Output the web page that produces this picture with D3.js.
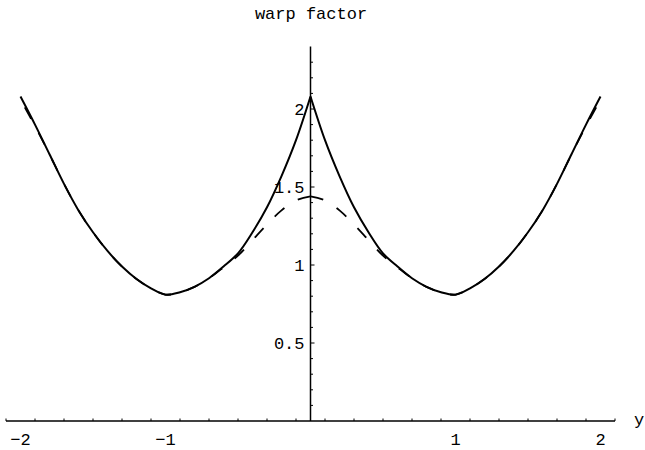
<!DOCTYPE html>
<html>
<head>
<meta charset="utf-8">
<script src="https://cdn.jsdelivr.net/npm/d3@7/dist/d3.min.js"></script>
<style>
  html, body { margin: 0; padding: 0; background: #fff; }
  svg { display: block; }
  text { font-family: "Liberation Mono", "DejaVu Sans Mono", monospace; fill: #000; }
</style>
</head>
<body>
<svg id="chart" width="645" height="450"></svg>
<script>
// Sample positions along y
const yPos = [-2.0, -1.9, -1.8, -1.7, -1.6, -1.5, -1.4, -1.3, -1.2, -1.1, -1.0,
              -0.9, -0.8, -0.7, -0.6, -0.5, -0.4, -0.3, -0.2, -0.1, 0.0,
               0.1, 0.2, 0.3, 0.4, 0.5, 0.6, 0.7, 0.8, 0.9, 1.0,
               1.1, 1.2, 1.3, 1.4, 1.5, 1.6, 1.7, 1.8, 1.9, 2.0];

// Exact warp factor (solid, cusps at 0 and ±2)
const warpExact = [2.08, 1.90, 1.71, 1.52, 1.35, 1.21, 1.09, 0.99, 0.91, 0.85, 0.81,
                   0.825, 0.86, 0.915, 0.99, 1.075, 1.21, 1.37, 1.57, 1.80, 2.08,
                   1.80, 1.57, 1.37, 1.21, 1.075, 0.99, 0.915, 0.86, 0.825, 0.81,
                   0.85, 0.91, 0.99, 1.09, 1.21, 1.35, 1.52, 1.71, 1.90, 2.08];

// Smoothed warp factor (dashed), one half running out from y = 0 each way
const smoothPos = [0.0, 0.1, 0.2, 0.3, 0.4, 0.5, 0.6, 0.7, 0.8, 0.9, 1.0,
                   1.1, 1.2, 1.3, 1.4, 1.5, 1.6, 1.7, 1.8, 1.9, 2.0];
const smoothRight = [1.44, 1.415, 1.35, 1.26, 1.16, 1.06, 0.985, 0.915, 0.86, 0.825, 0.81,
                     0.85, 0.91, 0.99, 1.09, 1.21, 1.35, 1.52, 1.71, 1.89, 2.06];
const smoothLeft  = [1.44, 1.415, 1.35, 1.26, 1.16, 1.06, 0.985, 0.915, 0.86, 0.825, 0.81,
                     0.85, 0.91, 0.99, 1.09, 1.21, 1.35, 1.52, 1.71, 1.89, 2.06];

const xMajor = [-2, -1, 1, 2];
const yMajor = [0.5, 1, 1.5, 2];

const svg = d3.select("#chart");

const x = d3.scaleLinear().domain([-2.1, 2.1]).range([6, 615]);
const y = d3.scaleLinear().domain([0, 2.4]).range([421, 46.6]);

// Minor tick positions
const xMinor = d3.range(-21, 22, 2).map(d => d / 10).filter(d => d >= -2.1 && d <= 2.1);
const yMinor = d3.range(1, 24).map(d => d / 10);
const isMajor = (list, d) => list.some(m => Math.abs(m - d) < 1e-9);

// x axis line and ticks (ticks point upward)
const gx = svg.append("g");
gx.append("line")
  .attr("x1", x(-2.1)).attr("x2", x(2.1))
  .attr("y1", y(0)).attr("y2", y(0))
  .attr("stroke", "#000").attr("stroke-width", 1.5);
gx.selectAll("line.tick").data(xMinor.filter(d => Math.abs(d) > 1e-9)).enter()
  .append("line").attr("class", "tick")
  .attr("x1", d => x(d)).attr("x2", d => x(d))
  .attr("y1", y(0)).attr("y2", d => y(0) - (isMajor(xMajor, d) ? 4 : 2.5))
  .attr("stroke", "#000").attr("stroke-width", 1);
gx.selectAll("text").data(xMajor).enter().append("text")
  .attr("x", d => x(d)).attr("y", y(0) + 24)
  .attr("text-anchor", "middle")
  .attr("font-size", 17)
  .text(d => d < 0 ? "\u2212" + Math.abs(d) : String(d));
svg.append("text").attr("x", 634).attr("y", 425)
  .attr("font-size", 17).text("y");

// y axis line and ticks (ticks point right)
const gy = svg.append("g");
gy.append("line")
  .attr("x1", x(0)).attr("x2", x(0))
  .attr("y1", y(0)).attr("y2", y(2.4))
  .attr("stroke", "#000").attr("stroke-width", 1.5);
gy.selectAll("line.tick").data(yMinor).enter()
  .append("line").attr("class", "tick")
  .attr("x1", x(0)).attr("x2", d => x(0) + (isMajor(yMajor, d) ? 4 : 2.5))
  .attr("y1", d => y(d)).attr("y2", d => y(d))
  .attr("stroke", "#000").attr("stroke-width", 1);
gy.selectAll("text").data(yMajor).enter().append("text")
  .attr("x", x(0) - 6).attr("y", d => y(d))
  .attr("dy", "0.35em")
  .attr("text-anchor", "end")
  .attr("font-size", 17)
  .text(d => String(d));

// Title
svg.append("text").attr("x", 311).attr("y", 19)
  .attr("text-anchor", "middle").attr("font-size", 17)
  .text("warp factor");

// Curves
const line = d3.line()
  .x(d => x(d[0])).y(d => y(d[1]))
  .curve(d3.curveCatmullRom.alpha(0.5));

// Dashed smooth curve, drawn outward from the centre so a dash straddles y = 0
[[1, smoothRight], [-1, smoothLeft]].forEach(([side, vals]) => {
  svg.append("path")
    .attr("d", line(smoothPos.map((p, i) => [side * p, vals[i]])))
    .attr("fill", "none").attr("stroke", "#000").attr("stroke-width", 1.8)
    .attr("stroke-dasharray", "13,16");
});

// Solid exact curve, one branch on each side of the cusp at y = 0
const exactPts = yPos.map((p, i) => [p, warpExact[i]]);
const mid = yPos.indexOf(0);
[exactPts.slice(0, mid + 1), exactPts.slice(mid)].forEach(seg => {
  svg.append("path")
    .attr("d", line(seg))
    .attr("fill", "none").attr("stroke", "#000").attr("stroke-width", 2);
});
</script>
</body>
</html>
